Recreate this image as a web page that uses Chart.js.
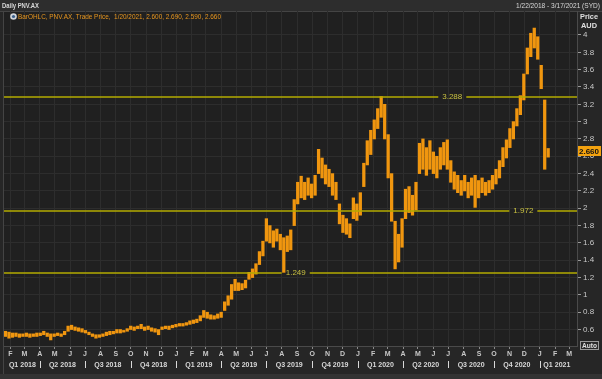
<!DOCTYPE html>
<html>
<head>
<meta charset="utf-8">
<script src="https://cdn.jsdelivr.net/npm/chart.js@4.4.1/dist/chart.umd.min.js"></script>
<style>
  html, body { margin: 0; padding: 0; background: #222; }
  canvas { display: block; }
</style>
</head>
<body>
<canvas id="chart" width="602" height="379"></canvas>
<script>
const FONT = "'Liberation Sans', Arial, sans-serif";

// weekly ranges of PNV.AX (weeks from 22 Jan 2018)
const firstWeek = "2018-01-22";
const weekLows = [
  0.52,0.50,0.51,0.52,0.51,0.52,0.52,0.51,0.52,0.52,
  0.53,0.54,0.52,0.48,0.52,0.53,0.52,0.54,0.58,0.60,
  0.59,0.58,0.57,0.56,0.54,0.52,0.50,0.51,0.52,0.53,
  0.54,0.55,0.56,0.56,0.57,0.58,0.60,0.59,0.61,0.61,
  0.59,0.60,0.58,0.57,0.54,0.60,0.61,0.60,0.62,0.63,
  0.64,0.64,0.65,0.66,0.67,0.68,0.70,0.74,0.73,0.72,
  0.72,0.73,0.74,0.82,0.88,0.95,1.05,1.05,1.06,1.08,
  1.18,1.20,1.24,1.35,1.45,1.62,1.60,1.55,1.62,1.52,
  1.26,1.50,1.52,1.80,2.05,2.12,2.10,2.15,2.12,2.15,
  2.40,2.35,2.28,2.25,2.15,2.10,1.82,1.72,1.70,1.66,
  1.88,1.86,1.92,2.25,2.50,2.62,2.80,2.92,3.05,2.80,
  2.35,1.85,1.30,1.38,1.55,1.88,1.95,1.92,1.98,2.40,
  2.45,2.38,2.45,2.40,2.35,2.45,2.50,2.45,2.30,2.22,
  2.18,2.15,2.20,2.12,2.15,2.01,2.12,2.18,2.15,2.18,
  2.22,2.28,2.35,2.48,2.58,2.70,2.80,2.95,3.08,3.25,
  3.55,3.75,3.85,3.72,3.38,2.45,2.59
];
const weekHighs = [
  0.58,0.57,0.56,0.56,0.55,0.55,0.56,0.55,0.55,0.56,
  0.56,0.58,0.56,0.55,0.55,0.56,0.55,0.58,0.64,0.65,
  0.63,0.62,0.61,0.59,0.57,0.55,0.54,0.54,0.55,0.57,
  0.58,0.58,0.60,0.60,0.59,0.61,0.64,0.63,0.64,0.66,
  0.63,0.64,0.62,0.61,0.60,0.63,0.64,0.64,0.65,0.66,
  0.67,0.67,0.68,0.70,0.71,0.72,0.76,0.82,0.80,0.77,
  0.76,0.78,0.80,0.92,0.99,1.12,1.18,1.14,1.13,1.17,
  1.26,1.30,1.36,1.50,1.62,1.88,1.80,1.74,1.76,1.70,
  1.66,1.68,1.75,2.10,2.30,2.37,2.30,2.35,2.28,2.38,
  2.68,2.58,2.50,2.45,2.40,2.30,2.05,1.92,1.88,1.82,
  2.12,2.05,2.18,2.52,2.78,2.90,3.02,3.15,3.29,3.20,
  2.85,2.40,1.85,1.70,1.88,2.22,2.25,2.15,2.30,2.75,
  2.80,2.70,2.78,2.65,2.60,2.70,2.76,2.79,2.55,2.42,
  2.38,2.32,2.38,2.30,2.35,2.38,2.32,2.35,2.30,2.32,
  2.38,2.45,2.55,2.70,2.79,2.92,3.00,3.15,3.30,3.55,
  3.85,4.02,4.08,3.98,3.65,3.25,2.69
];

const levels      = [3.288, 1.972, 1.249];
const levelLabels = ["3.288", "1.972", "1.249"];
const levelLabelAt = ["2020-07-09", "2020-11-29", "2019-08-29"];

const yTicks = [0.6,0.8,1,1.2,1.4,1.6,1.8,2,2.2,2.4,2.6,2.8,3,3.2,3.4,3.6,3.8,4];
const monthLetters = ["J","F","M","A","M","J","J","A","S","O","N","D"];
const quarterLabels = ["Q1 2018","Q2 2018","Q3 2018","Q4 2018","Q1 2019","Q2 2019","Q3 2019",
                       "Q4 2019","Q1 2020","Q2 2020","Q3 2020","Q4 2020","Q1 2021"];
const lastClose = 2.66;
const legendText = "BarOHLC, PNV.AX, Trade Price,  1/20/2021, 2.600, 2.690, 2.590, 2.660";

// ── days since 1 Jan 2018 ──
const EPOCH = Date.UTC(2018, 0, 1);
function dayOf(s) {
  const [y, m, d] = s.split("-").map(Number);
  return Math.round((Date.UTC(y, m - 1, d) - EPOCH) / 86400000);
}
function dayOfYM(y, m) { return Math.round((Date.UTC(y, m, 1) - EPOCH) / 86400000); }

const X_MIN = dayOf("2018-01-19");
const X_MAX = dayOf("2021-03-17");

const start = dayOf(firstWeek);
const bars = weekLows.map((lo, i) => ({ x: start + i * 7, y: [lo, weekHighs[i]] }));

const monthTicks = [];
for (let y = 2018; y <= 2021; y++) {
  for (let m = 0; m < 12; m++) {
    const d = dayOfYM(y, m);
    if (d > X_MIN && d < X_MAX) monthTicks.push({ d, letter: monthLetters[m] });
  }
}
const quarters = quarterLabels.map((label, i) => {
  const y = 2018 + Math.floor(i / 4), q = i % 4;
  return { label, from: dayOfYM(y, q * 3), to: dayOfYM(y, q * 3 + 3) };
});

function fitText(ctx, text, x, y, maxW) {
  const w = ctx.measureText(text).width;
  const s = Math.min(1, maxW / w);
  ctx.save();
  ctx.translate(x, y);
  ctx.scale(s, 1);
  ctx.fillText(text, 0, 0);
  ctx.restore();
}

// ── Frame, header, legend ──
const framePlugin = {
  id: "frame",
  beforeDraw(chart) {
    const { ctx, chartArea: a } = chart;
    ctx.save();
    ctx.fillStyle = "#262626";
    ctx.fillRect(0, 0, 602, 379);
    ctx.fillStyle = "#202020";
    ctx.fillRect(a.left, a.top, a.right - a.left, a.bottom - a.top);
    ctx.fillStyle = "#2d2d2d";
    ctx.fillRect(0, 0, 602, 11);
    ctx.fillStyle = "#333";
    ctx.fillRect(0, 374, 602, 5);
    ctx.strokeStyle = "#444";
    ctx.lineWidth = 1;
    ctx.beginPath();
    ctx.moveTo(0, 11.5); ctx.lineTo(602, 11.5);
    ctx.moveTo(3.5, 11); ctx.lineTo(3.5, 374);
    ctx.stroke();

    ctx.textBaseline = "middle";
    ctx.fillStyle = "#d8d8d8";
    ctx.font = "bold 8px " + FONT;
    ctx.textAlign = "left";
    fitText(ctx, "Daily PNV.AX", 2, 5.5, 37);
    ctx.font = "8px " + FONT;
    const rt = "1/22/2018 - 3/17/2021 (SYD)";
    const rw = Math.min(ctx.measureText(rt).width, 84);
    fitText(ctx, rt, 600 - rw, 5.5, 84);
    ctx.restore();
  },
  afterDraw(chart) {
    const { ctx, chartArea: a, scales } = chart;
    ctx.save();
    // legend line
    ctx.fillStyle = "#cfd4da";
    ctx.beginPath(); ctx.arc(13.5, 16.5, 3.3, 0, Math.PI * 2); ctx.fill();
    ctx.fillStyle = "#3a5f8a";
    ctx.beginPath(); ctx.arc(13.5, 16.5, 1.6, 0, Math.PI * 2); ctx.fill();
    ctx.fillStyle = "#e8961e";
    ctx.font = "8px " + FONT;
    ctx.textBaseline = "middle";
    fitText(ctx, legendText, 18, 16.5, 203);

    // Price / AUD
    ctx.fillStyle = "#e0e0e0";
    ctx.font = "bold 8px " + FONT;
    fitText(ctx, "Price", 580, 16.5, 18);
    fitText(ctx, "AUD", 581, 25.5, 16);

    // last close tag
    const yp = Math.round(scales.y.getPixelForValue(lastClose));
    ctx.fillStyle = "#f3a20f";
    ctx.fillRect(578, yp - 5, 23, 10);
    ctx.fillStyle = "#111";
    ctx.font = "bold 8px " + FONT;
    fitText(ctx, lastClose.toFixed(3), 579, yp + 0.5, 21);

    // Auto box
    ctx.fillStyle = "#2a2a2a";
    ctx.fillRect(580.5, 341.5, 18, 8);
    ctx.strokeStyle = "#9a9a9a";
    ctx.strokeRect(580.5, 341.5, 18, 8);
    ctx.fillStyle = "#e0e0e0";
    ctx.font = "bold 7px " + FONT;
    fitText(ctx, "Auto", 582, 346, 15);

    // quarter row
    const xs = scales.x;
    ctx.fillStyle = "#d8d8d8";
    ctx.font = "bold 8px " + FONT;
    ctx.textAlign = "left";
    quarters.forEach(q => {
      const x0 = xs.getPixelForValue(Math.max(q.from, X_MIN + 2));
      const x1 = xs.getPixelForValue(Math.min(q.to, X_MAX - 6));
      const tw = Math.min(ctx.measureText(q.label).width, 27);
      fitText(ctx, q.label, (x0 + x1) / 2 - tw / 2, 364.5, 27);
      if (q.from > X_MIN) {
        ctx.fillRect(Math.round(x0), 361, 1, 7);
      }
    });
    ctx.restore();
  }
};

// ── Horizontal levels ──
const levelPlugin = {
  id: "levels",
  afterDatasetsDraw(chart) {
    const { ctx, chartArea: a, scales } = chart;
    ctx.save();
    ctx.font = "8px " + FONT;
    ctx.textBaseline = "middle";
    levels.forEach((v, i) => {
      const y = Math.round(scales.y.getPixelForValue(v));
      const cx = scales.x.getPixelForValue(dayOf(levelLabelAt[i]));
      const tw = ctx.measureText(levelLabels[i]).width;
      ctx.strokeStyle = "#b2aa00";
      ctx.lineWidth = 1.6;
      ctx.beginPath();
      ctx.moveTo(a.left, y); ctx.lineTo(cx - tw / 2 - 4, y);
      ctx.moveTo(cx + tw / 2 + 4, y); ctx.lineTo(a.right, y);
      ctx.stroke();
      ctx.fillStyle = "#c8c040";
      ctx.textAlign = "center";
      ctx.fillText(levelLabels[i], cx, y);
    });
    ctx.restore();
  }
};

new Chart(document.getElementById("chart"), {
  type: "bar",
  data: {
    datasets: [{
      label: "PNV.AX",
      data: bars,
      backgroundColor: "#f0960f",
      borderWidth: 0,
      barThickness: 2.6,
    }],
  },
  options: {
    responsive: false,
    animation: false,
    layout: { padding: { left: 4, top: 11, right: 0, bottom: 0 } },
    plugins: { legend: { display: false }, tooltip: { enabled: false } },
    scales: {
      x: {
        type: "linear",
        min: X_MIN, max: X_MAX,
        offset: false,
        afterBuildTicks: s => { s.ticks = monthTicks.map(t => ({ value: t.d })); },
        afterFit: s => { s.height = 33; },
        ticks: {
          autoSkip: false, maxRotation: 0,
          color: "#c8c8c8", font: { family: FONT, size: 7, weight: "bold" }, padding: 1,
          callback: (v, i) => monthTicks[i] ? monthTicks[i].letter : "",
        },
        grid: { color: "#2d2d2d", tickColor: "#8a8a8a", tickLength: 3, offset: false },
        border: { color: "#4a4a4a" },
      },
      y: {
        position: "right",
        min: 0.41, max: 4.277,
        afterBuildTicks: s => { s.ticks = yTicks.map(v => ({ value: v })); },
        afterFit: s => { s.width = 25; },
        ticks: {
          color: "#c8c8c8", font: { family: FONT, size: 8 }, padding: 2,
          callback: v => String(v),
        },
        grid: { color: "#2d2d2d", tickColor: "#9a9a9a", tickLength: 4 },
        border: { color: "#4a4a4a" },
      },
    },
  },
  plugins: [framePlugin, levelPlugin],
});
</script>
</body>
</html>
